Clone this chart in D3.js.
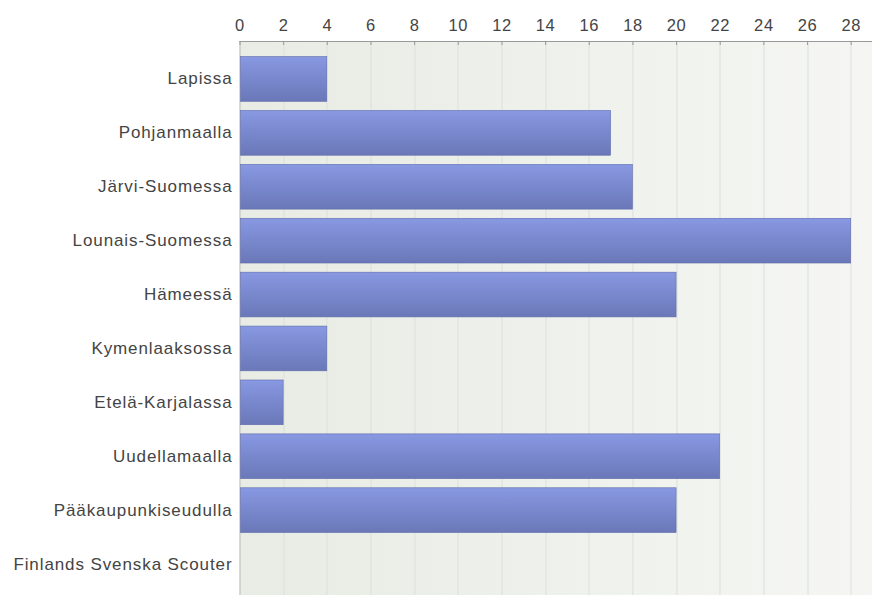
<!DOCTYPE html>
<html>
<head>
<meta charset="utf-8">
<script src="https://d3js.org/d3.v7.min.js"></script>
<style>
  body { margin: 0; background: #fff; }
  svg { display: block; font-family: "Liberation Sans", Arial, sans-serif; }
</style>
</head>
<body>
<svg></svg>
<script>
var categories = ["Lapissa", "Pohjanmaalla", "Järvi-Suomessa", "Lounais-Suomessa", "Hämeessä",
    "Kymenlaaksossa", "Etelä-Karjalassa", "Uudellamaalla", "Pääkaupunkiseudulla", "Finlands Svenska Scouter"];
var values = [4, 17, 18, 28, 20, 4, 2, 22, 20, 0];
var tickValues = d3.range(0, 29, 2);

var WIDTH = 872, HEIGHT = 595;
var margin = { top: 41, right: 0, bottom: 0, left: 239.5 },
    width = WIDTH - margin.left - margin.right,
    height = HEIGHT - margin.top - margin.bottom;

var svg = d3.select("svg")
    .attr("width", WIDTH)
    .attr("height", HEIGHT);

var defs = svg.append("defs");
var bg = defs.append("linearGradient").attr("id", "bg").attr("x1", 0).attr("x2", 1).attr("y1", 0).attr("y2", 0);
bg.append("stop").attr("offset", "0%").attr("stop-color", "#e8ece4");
bg.append("stop").attr("offset", "100%").attr("stop-color", "#f5f6f3");

var barGrad = defs.append("linearGradient").attr("id", "bar").attr("x1", 0).attr("x2", 0).attr("y1", 0).attr("y2", 1);
barGrad.append("stop").attr("offset", "0%").attr("stop-color", "#8898e2");
barGrad.append("stop").attr("offset", "100%").attr("stop-color", "#6a78b8");

var g = svg.append("g")
    .attr("transform", "translate(" + margin.left + "," + margin.top + ")");

var x = d3.scaleLinear().domain([0, 28]).range([0, 611.2]);
var y = d3.scaleBand().domain(categories).range([11, 550]).paddingInner(0.17).paddingOuter(0.085);

// background
g.append("rect")
    .attr("x", 0).attr("y", 0)
    .attr("width", width).attr("height", height)
    .attr("fill", "url(#bg)");

// grid
g.selectAll(".grid")
    .data(tickValues.slice(1))
    .enter().append("line")
    .attr("x1", d => Math.round(x(d)) + 0.5)
    .attr("x2", d => Math.round(x(d)) + 0.5)
    .attr("y1", 0).attr("y2", height)
    .attr("stroke", "#dcdfdb");

// left edge line
g.append("line")
    .attr("x1", 0.5).attr("x2", 0.5)
    .attr("y1", 0).attr("y2", height)
    .attr("stroke", "#bbbbbb");

// bars
g.selectAll(".bar")
    .data(values)
    .enter().append("rect")
    .attr("x", 1)
    .attr("y", (d, i) => y(categories[i]))
    .attr("width", d => Math.max(0, x(d) - 1))
    .attr("height", y.bandwidth())
    .attr("fill", "url(#bar)")
    .attr("stroke", d => d > 0 ? "#5f6cab" : "none")
    .attr("stroke-width", 0.6);

// top axis
var xAxis = d3.axisTop(x)
    .tickValues(tickValues)
    .tickSize(-4)
    .tickPadding(10);

var ax = g.append("g").call(xAxis);
ax.select(".domain").attr("stroke", "#999").attr("d", "M0,0.5H" + width);
ax.selectAll(".tick line").attr("stroke", "#999");
ax.selectAll(".tick text").attr("fill", "#444").attr("font-size", 16.5)
    .attr("letter-spacing", 0.6);

// category labels
var yAxis = d3.axisLeft(y).tickSize(0).tickPadding(7);
var ay = g.append("g").call(yAxis);
ay.select(".domain").remove();
ay.selectAll(".tick text").attr("fill", "#444").attr("font-size", 17)
    .attr("letter-spacing", 0.9);
</script>
</body>
</html>
